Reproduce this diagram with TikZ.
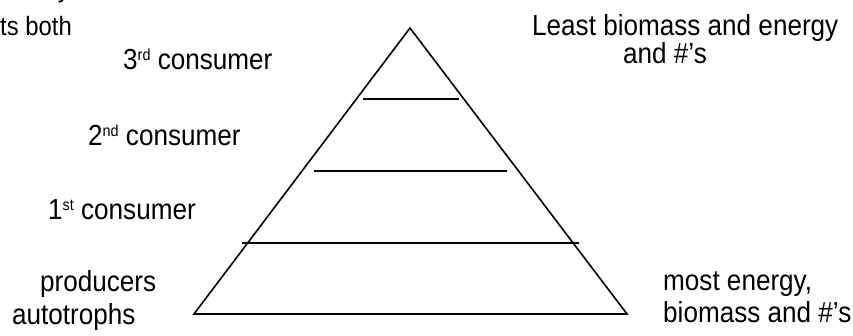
\documentclass[tikz,border=0pt]{standalone}
\usepackage{fontspec}
\setmainfont{Liberation Sans}[FakeStretch=0.9]
\usepackage{tikz}
\usetikzlibrary{calc,positioning}
\newcommand{\sups}[1]{\raisebox{8.5pt}{\fontsize{16}{16}\selectfont #1}}

\begin{document}
\begin{tikzpicture}[x=1pt, y=-1pt,
  lbl/.style={font=\fontsize{29}{33}\selectfont, inner sep=0pt},
  side/.style={font=\fontsize{26.5}{33}\selectfont, inner sep=0pt},
  lvl/.style={line width=1.6pt}]
\useasboundingbox (0,0) rectangle (853,335);
\clip (0,0) rectangle (853,335);
% pyramid
\coordinate (top) at (410,28);
\coordinate (bl) at (194,314);
\coordinate (br) at (627,314);
\draw[lvl, line join=miter] (top) -- (br) -- (bl) -- cycle;
\coordinate (a1) at (363,99);
\coordinate (a2) at (459,99);
\coordinate (b1) at (314,171);
\coordinate (b2) at (507,171);
\coordinate (c1) at (242,243);
\coordinate (c2) at (579,243);
\draw[lvl] (a1) -- (a2);
\draw[lvl] (b1) -- (b2);
\draw[lvl] (c1) -- (c2);
% levels
\node[lbl, anchor=base west] (third) at (123,69) {3\sups{rd} consumer};
\node[lbl, anchor=base west] (second) at (88,145) {2\sups{nd} consumer};
\node[lbl, anchor=base west] (first) at (48,219) {1\sups{st} consumer};
\node[lbl, anchor=base west] (prod) at (40,291) {producers};
\node[lbl, anchor=base west] (auto) at (12,324) {autotrophs};
% sides
\node[side, anchor=base east] (omni) at (70,-3) {omnivory};
\node[side, anchor=base east] (eats) at (72,35) {eats both};
\node[lbl, anchor=base west] (least) at (532,35) {Least biomass and energy};
\node[lbl, anchor=base west] (leastb) at (623,63) {and \#’s};
\node[lbl, anchor=base west] (most) at (663,290) {most energy,};
\node[lbl, anchor=base west] (mostb) at (663,322) {biomass and \#’s};
\end{tikzpicture}
\end{document}
